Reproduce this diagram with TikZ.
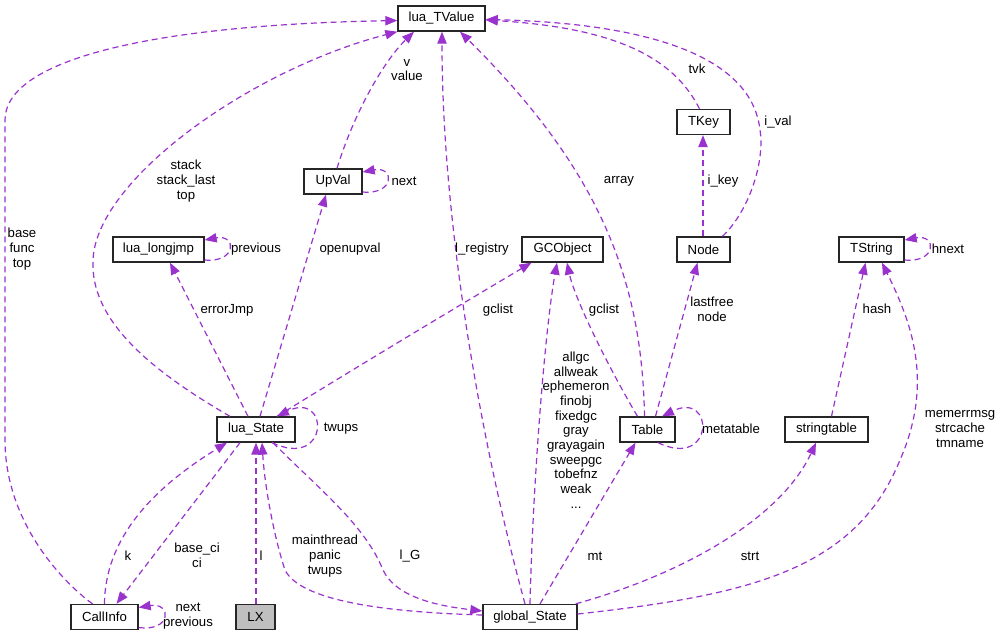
\documentclass[tikz,border=0pt]{standalone}
\usepackage{fontspec}
\setmainfont{Liberation Sans}
\usetikzlibrary{arrows.meta}
\definecolor{edgec}{HTML}{9A32CD}
\definecolor{lxgray}{HTML}{BFBFBF}
\begin{document}
\begin{tikzpicture}[x=0.75pt,y=-0.75pt,
  box/.style={draw=black!85, line width=1pt, fill=white, minimum height=18.75pt, inner sep=0pt, font=\fontsize{9.9}{11}\selectfont},
  edge/.style={draw=edgec, line width=0.9pt, dash pattern=on 4.5pt off 3pt, -{Triangle[length=9pt,width=7pt]}},
  lbl/.style={font=\fontsize{9.9}{11}\selectfont, align=center, inner sep=0pt}]
\fill[white] (0,0) rectangle (1001,637);
\useasboundingbox (0,0) rectangle (1001,637);
% nodes
\node[box, minimum width=65.25pt] (tv) at (441.5,18.5) {lua\_TValue};
\node[box, minimum width=43.5pt] (uv) at (333,181.5) {UpVal};
\node[box, minimum width=68.25pt] (lj) at (158.5,249.5) {lua\_longjmp};
\node[box, minimum width=39.75pt] (tk) at (703.5,122) {TKey};
\node[box, minimum width=39.75pt] (nd) at (703.5,249.5) {Node};
\node[box, minimum width=60.75pt] (gc) at (562.5,249.5) {GCObject};
\node[box, minimum width=48.75pt] (ts) at (871.5,249.5) {TString};
\node[box, minimum width=58.5pt] (ls) at (256,429.5) {lua\_State};
\node[box, minimum width=41.25pt] (tb) at (647.5,429.5) {Table};
\node[box, minimum width=62.25pt] (st) at (826.5,429.5) {stringtable};
\node[box, minimum width=50.25pt] (ci) at (104.5,617) {CallInfo};
\node[box, minimum width=29.25pt, fill=lxgray] (lx) at (255.5,617) {LX};
\node[box, minimum width=70.5pt] (gs) at (530,617) {global\_State};
% edges
\draw[edge] ([shift={(-12,0)}]ci.north) .. controls (60,580) and (5,520) .. (5,440) -- (5,120) .. controls (5,60) and (150,25) .. ([shift={(0,2)}]tv.west);
\draw[edge] ([shift={(-26,0)}]ls.north) .. controls (150,370) and (90,320) .. (93,260) .. controls (96,180) and (250,70) .. (tv.south west);
\draw[edge] ([shift={(4,0)}]uv.north) .. controls (355,110) and (385,60) .. ([shift={(-27.5,0)}]tv.south);
\draw[edge] ([shift={(0,10.5)}]uv.east) .. controls (395,195) and (395,166) .. ([shift={(0,-9.5)}]uv.east);
\draw[edge] ([shift={(0,10.5)}]lj.east) .. controls (237,263) and (237,234) .. ([shift={(0,-9.5)}]lj.east);
\draw[edge] ([shift={(-8,0)}]ls.north) -- ([shift={(11.5,0)}]lj.south);
\draw[edge] ([shift={(4,0)}]ls.north) -- ([shift={(-7,0)}]uv.south);
\draw[edge] ([shift={(-5,0)}]gs.north) .. controls (480,440) and (442,220) .. ([shift={(0.5,0)}]tv.south);
\draw[edge] (gs.north) .. controls (533,480) and (545,330) .. ([shift={(-5.5,0)}]gc.south);
\draw[edge] ([shift={(-10,0)}]tb.north) .. controls (610,370) and (575,300) .. ([shift={(4.5,0)}]gc.south);
\draw[edge] ([shift={(21,0)}]ls.north) .. controls (360,365) and (460,305) .. ([shift={(-31,0)}]gc.south);
\draw[edge] ([shift={(-3,0)}]tb.north) .. controls (642,280) and (600,170) .. ([shift={(18.5,0)}]tv.south);
\draw[edge] ([shift={(-4,0)}]tk.north) .. controls (675,60) and (620,28) .. ([shift={(0,1.5)}]tv.east);
\draw[edge] ([shift={(19,0)}]nd.north) .. controls (750,210) and (765,160) .. (760,130) .. controls (750,40) and (600,22) .. ([shift={(0,1)}]tv.east);
\draw[edge] ([shift={(-0.5,0)}]nd.north) -- ([shift={(-0.5,0)}]tk.south);
\draw[edge] ([shift={(8,0)}]tb.north) -- ([shift={(-6,0)}]nd.south);
\draw[edge] ([shift={(0,10.5)}]ts.east) .. controls (937,263) and (937,234) .. ([shift={(0,-9.5)}]ts.east);
\draw[edge] ([shift={(5,0)}]st.north) -- ([shift={(-6,0)}]ts.south);
\draw[edge] ([shift={(0,-3)}]gs.east) .. controls (750,595) and (855,570) .. (900,460) .. controls (935,380) and (910,320) .. ([shift={(10.5,0)}]ts.south);
\draw[edge] ([shift={(-2,0)}]gs.north east) .. controls (680,575) and (780,520) .. ([shift={(-10.5,0)}]st.south);
\draw[edge] ([shift={(10,0)}]gs.north) -- ([shift={(-12,0)}]tb.south);
\draw[edge] ([shift={(10.5,0)}]tb.south) .. controls (715,470) and (715,390) .. ([shift={(14.5,0)}]tb.north);
\draw[edge] ([shift={(16,0)}]ls.south) .. controls (330,470) and (330,390) .. ([shift={(21,0)}]ls.north);
\draw[edge] ([shift={(17,0)}]ls.south) .. controls (320,490) and (365,525) .. (383,570) .. controls (395,595) and (430,605) .. ([shift={(0,-6)}]gs.west);
\draw[edge] ([shift={(0,-2)}]gs.west) .. controls (380,612) and (300,600) .. (285,570) .. controls (275,540) and (265,490) .. ([shift={(6,0)}]ls.south);
\draw[edge] ([shift={(0.5,0)}]lx.north) -- ([shift={(0,0)}]ls.south);
\draw[edge] (ci.north) .. controls (105,540) and (150,490) .. ([shift={(-29,0)}]ls.south);
\draw[edge] ([shift={(-16,0)}]ls.south) -- ([shift={(12,0)}]ci.north);
\draw[edge] ([shift={(0,10.5)}]ci.east) .. controls (172,632) and (172,602) .. ([shift={(0,-9.5)}]ci.east);
% labels
\node[lbl] (l1) at (22,249) {base\\func\\top};
\node[lbl] (l2) at (186,181) {stack\\stack\_last\\top};
\node[lbl] (l3) at (407,70) {v\\value};
\node[lbl] (l4) at (404,181) {next};
\node[lbl] (l5) at (256,249) {previous};
\node[lbl] (l6) at (350,249) {openupval};
\node[lbl] (l7) at (482,249) {l\_registry};
\node[lbl] (l8) at (227,310) {errorJmp};
\node[lbl] (l9) at (498,310) {gclist};
\node[lbl] (l10) at (604,310) {gclist};
\node[lbl] (l11) at (619,181) {array};
\node[lbl] (l12) at (697,69) {tvk};
\node[lbl] (l13) at (778,122) {i\_val};
\node[lbl] (l14) at (723,181) {i\_key};
\node[lbl] (l15) at (712,309) {lastfree\\node};
\node[lbl] (l16) at (877,309) {hash};
\node[lbl] (l17) at (948,249) {hnext};
\node[lbl] (l18) at (341,429) {twups};
\node[lbl] (l19) at (731,429) {metatable};
\node[lbl] (l20) at (576,430) {allgc\\allweak\\ephemeron\\finobj\\fixedgc\\gray\\grayagain\\sweepgc\\tobefnz\\weak\\...};
\node[lbl] (l21) at (960,429) {memerrmsg\\strcache\\tmname};
\node[lbl] (l22) at (595,556) {mt};
\node[lbl] (l23) at (750,556) {strt};
\node[lbl] (l24) at (128,556) {k};
\node[lbl] (l25) at (197,555) {base\_ci\\ci};
\node[lbl] (l26) at (261,556) {l};
\node[lbl] (l27) at (325,556) {mainthread\\panic\\twups};
\node[lbl] (l28) at (410,556) {l\_G};
\node[lbl] (l29) at (188,616) {next\\previous};
\end{tikzpicture}
\end{document}
